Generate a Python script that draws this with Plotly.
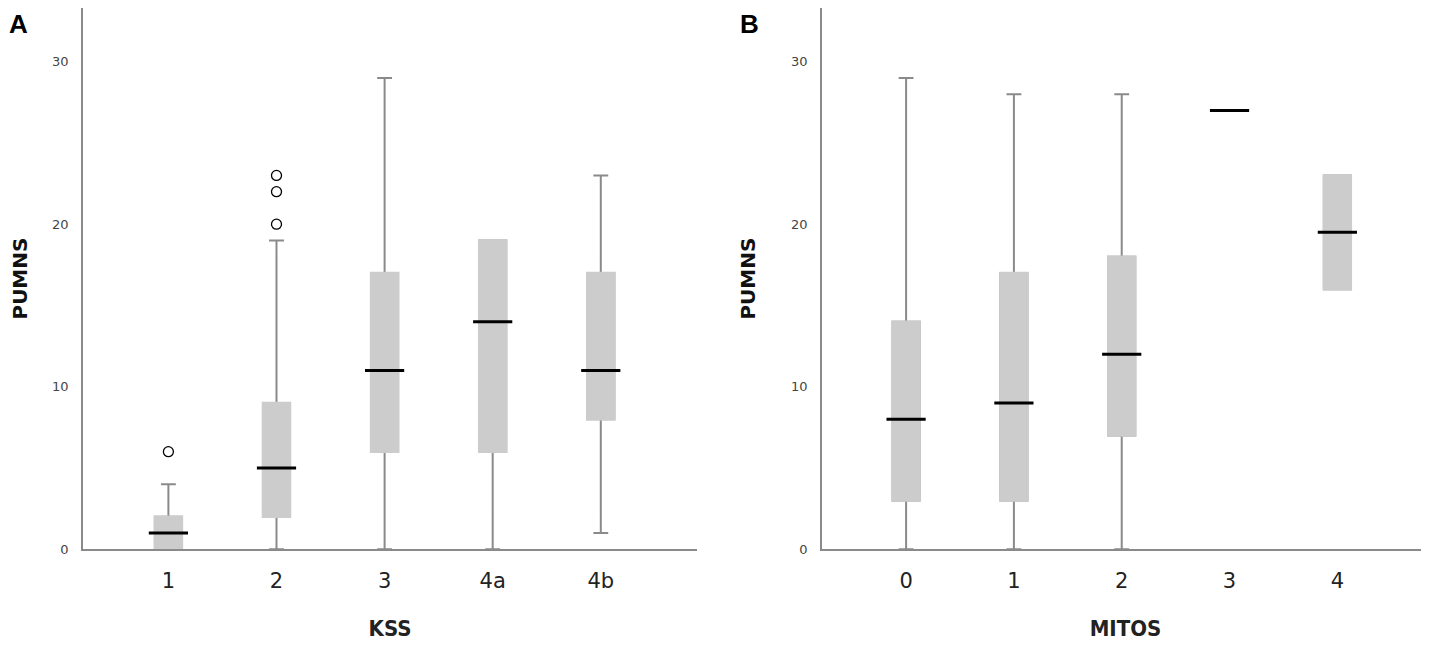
"""
PUMNS by KSS stage (A) and by MITOS stage (B) -- SPSS-style boxplots.
"""

import plotly.graph_objects as go

# =============================================================================
# DATA
# =============================================================================

KSS_CATS = ["1", "2", "3", "4a", "4b"]
KSS_LOW = [0, 0, 0, 0, 1]
KSS_Q1 = [0, 2, 6, 6, 8]
KSS_MED = [1, 5, 11, 14, 11]
KSS_Q3 = [2, 9, 17, 19, 17]
KSS_HIGH = [4, 19, 29, 19, 23]
KSS_OUT_X = ["1", "2", "2", "2"]
KSS_OUT_Y = [6, 20, 22, 23]

MITOS_CATS = ["0", "1", "2", "3", "4"]
MITOS_LOW = [0, 0, 0, 27, 16]
MITOS_Q1 = [3, 3, 7, 27, 16]
MITOS_MED = [8, 9, 12, 27, 19.5]
MITOS_Q3 = [14, 17, 18, 27, 23]
MITOS_HIGH = [29, 28, 28, 27, 23]

Y_TICKS = [0, 10, 20, 30]

# =============================================================================
# STYLE
# =============================================================================

FONT = "DejaVu Sans"
FONT_TITLE = "DejaVu Sans Condensed, DejaVu Sans"
BOX_FILL = "#cccccc"
WHISKER = "#8a8a8a"
AXIS_LINE = "#8a8a8a"
BOX_W = 0.25

# the page body adds an 8 px margin, so the figure is 8 px smaller each way
OFF = 8
W, H = 1429 - OFF, 646 - OFF


def add_panel(fig, cats, low, q1, med, q3, high, xa, ya):
    # whiskers + caps (grey)
    fig.add_trace(go.Box(
        x=cats, q1=q1, median=med, q3=q3, lowerfence=low, upperfence=high,
        width=BOX_W, whiskerwidth=0.55,
        fillcolor=BOX_FILL, line=dict(color=WHISKER, width=2),
        showlegend=False, xaxis=xa, yaxis=ya, hoverinfo="skip",
    ))
    # plain box body on top, so the grey outline disappears
    fig.add_trace(go.Box(
        x=cats, q1=q1, median=med, q3=q3, lowerfence=q1, upperfence=q3,
        width=BOX_W, whiskerwidth=0,
        fillcolor=BOX_FILL, line=dict(color=BOX_FILL, width=2.5),
        showlegend=False, xaxis=xa, yaxis=ya, hoverinfo="skip",
    ))
    # black median bars
    fig.add_trace(go.Scatter(
        x=cats, y=med, mode="markers",
        marker=dict(symbol="line-ew", size=28, line=dict(color="black", width=3)),
        showlegend=False, xaxis=xa, yaxis=ya, hoverinfo="skip",
    ))


fig = go.Figure()
add_panel(fig, KSS_CATS, KSS_LOW, KSS_Q1, KSS_MED, KSS_Q3, KSS_HIGH, "x", "y")
fig.add_trace(go.Scatter(
    x=KSS_OUT_X, y=KSS_OUT_Y, mode="markers",
    marker=dict(symbol="circle-open", size=10, color="black", line=dict(width=1.3)),
    showlegend=False, xaxis="x", yaxis="y", hoverinfo="skip",
))
add_panel(fig, MITOS_CATS, MITOS_LOW, MITOS_Q1, MITOS_MED, MITOS_Q3, MITOS_HIGH, "x2", "y2")

y_dom = [(H - (556 - OFF)) / H, 1.0]

xaxis_common = dict(
    type="category", showline=True, linecolor=AXIS_LINE, linewidth=1.5,
    showgrid=False, zeroline=False, ticks="", ticklabelstandoff=12,
    tickfont=dict(family=FONT, size=21, color="#222"),
    title_font=dict(family=FONT_TITLE, size=22, color="#222"),
    title_standoff=29,
)
yaxis_common = dict(
    range=[0, 33.3], tickvals=Y_TICKS, showline=True, linecolor=AXIS_LINE,
    linewidth=1.5, showgrid=False, zeroline=False, ticks="", ticklabelstandoff=10,
    tickfont=dict(family=FONT, size=13, color="#444"),
    title_text="<b>PUMNS</b>",
    title_font=dict(family=FONT, size=20, color="#111"),
    title_standoff=30,
)

panel_font = dict(family="Liberation Sans", size=26, color="black")

fig.update_layout(
    width=W, height=H,
    margin=dict(l=0, r=0, t=0, b=0),
    plot_bgcolor="white", paper_bgcolor="white",
    boxmode="overlay",
    xaxis=dict(xaxis_common, domain=[(83 - OFF) / W, (697 - OFF) / W], anchor="y",
               range=[-0.79, 4.89], title_text="<b>KSS</b>"),
    yaxis=dict(yaxis_common, domain=y_dom, anchor="x"),
    xaxis2=dict(xaxis_common, domain=[(822 - OFF) / W, 1.0], anchor="y2",
                range=[-0.78, 4.85], title_text="<b>MITOS</b>"),
    yaxis2=dict(yaxis_common, domain=y_dom, anchor="x2"),
    annotations=[
        dict(text="<b>A</b>", x=(18 - OFF) / W, y=1.0,
             xref="paper", yref="paper", xanchor="center", yanchor="top",
             borderpad=0, showarrow=False, font=panel_font),
        dict(text="<b>B</b>", x=(749 - OFF) / W, y=1.0,
             xref="paper", yref="paper", xanchor="center", yanchor="top",
             borderpad=0, showarrow=False, font=panel_font),
    ],
)

fig.write_html("out.html")
